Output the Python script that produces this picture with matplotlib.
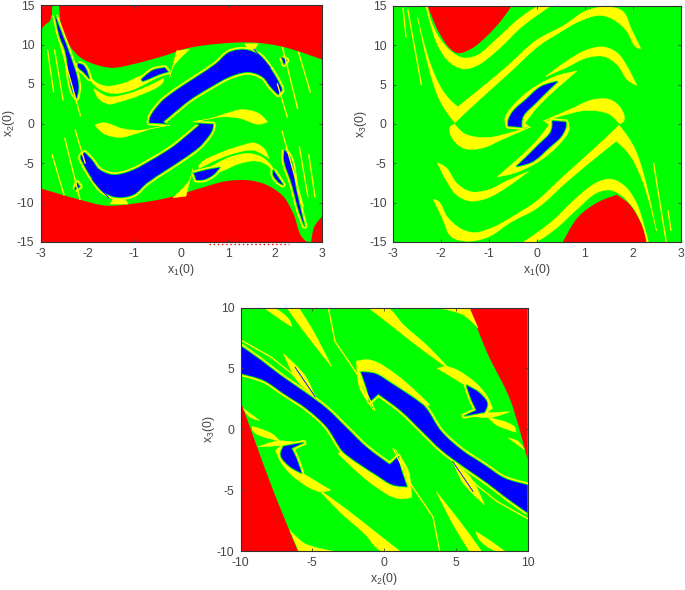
import matplotlib
matplotlib.use("Agg")
import matplotlib.pyplot as plt
from matplotlib.patches import PathPatch
from matplotlib.path import Path
import numpy as np

plt.rcParams['font.family'] = ['Liberation Sans', 'DejaVu Sans']
plt.rcParams['axes.unicode_minus'] = False

RED = '#ff0000'
GREEN = '#00ff00'
BLUE = '#0000ff'
YELLOW = '#ffff00'
TXT = '#444444'

# --- panel 1: x1(0) / x2(0)
p1_red = [
    [(-3, 15), (-3, 11.8), (-2.9, 12.5), (-2.8, 13), (-2.75, 15), (-2.6, 15), (-2.52, 11.4), (-2.16, 8.4),
     (-1.74, 7.3), (-1.45, 7.05), (-1.03, 7.5), (-0.32, 8.65), (0.11, 9.5), (0.82, 10.1), (1.53, 10.25),
     (2.17, 9.7), (3, 8.1), (3, 15)],
    [(-3, -15), (-3, -8.2), (-2.5, -9.1), (-2.16, -9.65), (-1.6, -10.4), (-1.03, -10.15), (-0.32, -9.45),
     (0.4, -8.2), (0.96, -7.3), (1.46, -7.2), (1.81, -7.75), (2.17, -9.2), (2.38, -11.3), (2.66, -14.9),
     (2.77, -15), (2.84, -13), (3, -11.8), (3, -15)],
]
p1_yellow = [
    [(-2.05, 7), (-1.84, 5.3), (-1.59, 4.74), (-1.24, 5.08), (-0.88, 6), (-0.35, 7.2), (-0.33, 6.56), (-0.74, 5.1),
     (-1.09, 4.15), (-1.45, 3.8), (-1.73, 4.3), (-1.94, 5.5)],
    [(-1.87, 4.45), (-1.55, 3.4), (-1.24, 3.6), (-0.81, 4.45), (-0.38, 5.7), (-0.38, 5.3), (-0.88, 3.6), (-1.31, 2.76),
     (-1.55, 2.46), (-1.77, 3.2)],
    [(2.05, -7), (1.84, -5.3), (1.59, -4.74), (1.24, -5.08), (0.88, -6), (0.35, -7.2), (0.33, -6.56), (0.74, -5.1),
     (1.09, -4.15), (1.45, -3.8), (1.73, -4.3), (1.94, -5.5)],
    [(1.87, -4.45), (1.55, -3.4), (1.24, -3.6), (0.81, -4.45), (0.38, -5.7), (0.38, -5.3), (0.88, -3.6), (1.31, -2.76),
     (1.55, -2.46), (1.77, -3.2)],
    [(0.24, 0.2), (0.6, 0.6), (0.95, 1.25), (1.3, 1.76), (1.66, 1.25), (1.84, 0.2), (1.66, -0.1), (1.25, 0.65),
     (0.89, 0.85), (0.53, 0.5)],
    [(-1.84, -0.2), (-1.66, 0.1), (-1.25, -0.65), (-0.89, -0.85), (-0.53, -0.5), (-0.24, -0.2), (-0.6, -0.6),
     (-0.95, -1.25), (-1.3, -1.76), (-1.66, -1.25)],
    [(1.35, 10.1), (1.64, 10.1), (1.53, 9.3), (1.43, 9.3)],
    [(-1.52, -10.2), (-1.13, -10.2), (-1.27, -9.25), (-1.42, -9.25)],
    [(-0.1, 9.2), (0.18, 9.4), (-0.17, 7.2), (-0.25, 5.7)],
    [(0.1, -9.2), (-0.18, -9.4), (0.17, -7.2), (0.25, -5.7)],
]
p1_streaks = [
    [(-2.85, 9.3), (-2.72, 4)],
    [(-2.7, 9.3), (-2.52, 3)],
    [(-2.6, 10.5), (-2.15, 1)],
    [(-2.26, -0.83), (-2.05, -5)],
    [(-2.48, -1.9), (-2.16, -9.6)],
    [(-2.75, -4), (-2.5, -9)],
    [(2.85, -9.3), (2.72, -4)],
    [(2.7, -9.3), (2.52, -3)],
    [(2.6, -10.5), (2.15, -1)],
    [(2.26, 0.83), (2.05, 5)],
    [(2.48, 1.9), (2.16, 9.6)],
    [(2.75, 4), (2.5, 9)],
]
p1_blue = [
    [(-0.32, -0.02), (-0.68, 0.1), (-0.66, 0.82), (-0.46, 2.5), (-0.39, 2.93), (-0.11, 4.19), (0.32, 5.87),
     (0.74, 7.55), (1.03, 9.03), (1.38, 9.32), (1.67, 8.6), (1.88, 7.13), (2.09, 5.03), (2.14, 4.19), (2.06, 3.68),
     (1.91, 4.6), (1.74, 5.87), (1.45, 6.5), (1.1, 6.08), (0.6, 4.53), (0.17, 2.93), (-0.18, 1.24), (-0.39, 0.19)],
    [(0.32, 0.02), (0.68, -0.1), (0.66, -0.82), (0.46, -2.5), (0.39, -2.93), (0.11, -4.19), (-0.32, -5.87),
     (-0.74, -7.55), (-1.03, -9.03), (-1.38, -9.32), (-1.67, -8.6), (-1.88, -7.13), (-2.09, -5.03),
     (-2.14, -4.19), (-2.06, -3.68), (-1.91, -4.6), (-1.74, -5.87), (-1.45, -6.5), (-1.1, -6.08),
     (-0.6, -4.53), (-0.17, -2.93), (0.18, -1.24), (0.39, -0.19)],
    [(-0.85, 5.57), (-0.6, 6.75), (-0.35, 7.05), (-0.28, 6.54), (-0.46, 6.24), (-0.67, 5.7), (-0.82, 5.36)],
    [(0.27, -6.3), (0.54, -5.87), (0.82, -5.58), (0.68, -6.5), (0.46, -7.13), (0.32, -7.13)],
    [(-2.2, 7.6), (-2.09, 7.38), (-1.96, 5.7), (-2.09, 6.54), (-2.2, 7.17)],
    [(1.96, -5.87), (2.17, -7.76), (2.1, -7.55), (1.96, -6.5)],
    [(-2.69, 13.7), (-2.52, 11), (-2.41, 9.3), (-2.19, 4.66), (-2.23, 3.2), (-2.3, 3.8), (-2.48, 9.3), (-2.59, 11)],
    [(2.2, -3.35), (2.31, -4.2), (2.45, -8.4), (2.63, -13), (2.52, -11.3), (2.35, -7.55), (2.19, -4.6)],
    [(2.14, 8.4), (2.25, 8), (2.19, 7.5)],
    [(-2.27, -8.4), (-2.16, -8), (-2.22, -7.5)],
]
p1_thin_blue = [
    [(1.55, 9.4), (1.9, 7.1)],
    [(-1.55, -9.4), (-1.9, -7.1)],
]

# --- panel 2: x1(0) / x3(0)
p2_red = [
    [(-2.28, 15), (-0.53, 15), (-0.74, 13.2), (-1.09, 10.9), (-1.36, 9.6), (-1.64, 9), (-1.78, 9.4), (-2.03, 11.5)],
    [(0.54, -15), (0.86, -11.8), (1.28, -9.9), (1.66, -9), (1.91, -10.1), (2.15, -12.4), (2.31, -15)],
]
p2_yellow = [
    [(-2.28, 15), (-2.23, 13.5), (-2.02, 10.8), (-1.74, 9), (-1.53, 8.4), (-1.26, 8.7), (-0.84, 10.8), (-0.35, 13.5),
     (0.06, 15), (0.28, 15), (-0.29, 12.5), (-0.84, 9.3), (-1.26, 7.4), (-1.53, 7), (-1.81, 7.8), (-2.06, 9.9),
     (-2.23, 12.9), (-2.32, 15)],
    [(2.28, -15), (2.23, -13.5), (2.02, -10.8), (1.74, -9), (1.53, -8.4), (1.26, -8.7), (0.84, -10.8), (0.35, -13.5),
     (-0.06, -15), (-0.28, -15), (0.29, -12.5), (0.84, -9.3), (1.26, -7.4), (1.53, -7), (1.81, -7.8), (2.06, -9.9),
     (2.23, -12.9), (2.32, -15)],
    [(-2.49, 13.6), (-2.22, 7.6), (-1.98, 4.4), (-1.8, 3), (-1.65, 2.2), (-1.4, 3.4), (-0.63, 7.3), (0, 10.7),
     (0.55, 12.5), (1.03, 14.4), (1.45, 14.9), (1.77, 14.4), (1.97, 12), (2.16, 9.6), (2.08, 9.7), (1.87, 11.8),
     (1.59, 13.3), (1.31, 13.8), (0.9, 13.1), (0.41, 11.4), (0.06, 10.05), (-0.56, 6.6), (-1.25, 2.8), (-1.54, 1.15),
     (-1.71, 0.15), (-1.88, 1.5), (-2.05, 3.3), (-2.27, 7.5)],
    [(2.49, -13.6), (2.22, -7.6), (1.98, -4.4), (1.8, -3), (1.65, -2.2), (1.4, -3.4), (0.63, -7.3), (0, -10.7),
     (-0.55, -12.5), (-1.03, -14.4), (-1.45, -14.9), (-1.77, -14.4), (-1.97, -12), (-2.16, -9.6), (-2.08, -9.7),
     (-1.87, -11.8), (-1.59, -13.3), (-1.31, -13.8), (-0.9, -13.1), (-0.41, -11.4), (-0.06, -10.05), (0.56, -6.6),
     (1.25, -2.8), (1.54, -1.15), (1.71, -0.15), (1.88, -1.5), (2.05, -3.3), (2.27, -7.5)],
    [(2.08, 4.9), (1.87, 7.4), (1.66, 9.1), (1.38, 9.8), (1.03, 9.4), (0.62, 8), (0.17, 6), (0.62, 7.2), (1.03, 8.4),
     (1.38, 8.6), (1.66, 7.6), (1.9, 5.5)],
    [(-2.08, -4.9), (-1.87, -7.4), (-1.66, -9.1), (-1.38, -9.8), (-1.03, -9.4), (-0.62, -8), (-0.17, -6), (-0.62, -7.2),
     (-1.03, -8.4), (-1.38, -8.6), (-1.66, -7.6), (-1.9, -5.5)],
    [(0.13, 0.38), (0.69, 1.87), (1.17, 3.1), (1.52, 3.1), (1.76, 1.87), (1.81, 0.38), (1.72, 0), (1.49, 1.3), (1, 1.7),
     (0.58, 1.15)],
    [(-0.13, -0.38), (-0.69, -1.87), (-1.17, -3.1), (-1.52, -3.1), (-1.76, -1.87), (-1.81, -0.38), (-1.72, 0),
     (-1.49, -1.3), (-1, -1.7), (-0.58, -1.15)],
    [(0.83, 6.74), (0.45, 6.2), (-0.04, 4.75), (-0.46, 2.6), (-0.67, 0.7), (-0.63, -0.5), (-0.15, -0.4), (-0.25, 0.1),
     (-0.04, 1.8), (0.3, 3.9), (0.58, 5.4)],
    [(-0.83, -6.74), (-0.45, -6.2), (0.04, -4.75), (0.46, -2.6), (0.67, -0.7), (0.63, 0.5), (0.15, 0.4), (0.25, -0.1),
     (0.04, -1.8), (-0.3, -3.9), (-0.58, -5.4)],
]
p2_streaks = [
    [(-2.79, 14.7), (-2.73, 11.1)],
    [(-2.69, 14.5), (-2.41, 5)],
    [(2.43, -5), (2.69, -14.9)],
    [(2.73, -11), (2.79, -13.5)],
]
p2_blue = [
    [(0.43, 5.4), (0.1, 4.8), (-0.25, 3), (-0.5, 1.6), (-0.6, 0.4), (-0.6, -0.25), (-0.32, -0.4), (-0.32, 0.3),
     (-0.28, 1.1), (-0.04, 2.6), (0.24, 4.3)],
    [(-0.43, -5.4), (-0.1, -4.8), (0.25, -3), (0.5, -1.6), (0.6, -0.4), (0.6, 0.25), (0.32, 0.4), (0.32, -0.3),
     (0.28, -1.1), (0.04, -2.6), (-0.24, -4.3)],
]
p2_thin_blue = []

# --- panel 3: x2(0) / x3(0)
p3_red = [
    [(5.94, 10), (10, 10), (10, -2.5), (8.77, 2.5), (7.26, 6.1), (6.68, 7.75)],
    [(-10, 2.33), (-8.77, -1.7), (-7.6, -5.4), (-6, -10), (-10, -10)],
]
p3_yellow = [
    [(-6.78, 10), (-5.96, 10), (-5.04, 8.3), (-3.64, 5.13), (-5.04, 7.2), (-6.08, 8.83)],
    [(6.78, -10), (5.96, -10), (5.04, -8.3), (3.64, -5.13), (5.04, -7.2), (6.08, -8.83)],
    [(-8.4, 10), (-7.8, 10), (-6.6, 9), (-6.4, 8.4), (-7.2, 9)],
    [(8.4, -10), (7.8, -10), (6.6, -9), (6.4, -8.4), (7.2, -9)],
    [(-1.1, 10), (0.17, 10), (1.34, 8.6), (3.2, 6.65), (4.6, 4.9), (2.7, 6.5), (0.9, 8.16)],
    [(1.1, -10), (-0.17, -10), (-1.34, -8.6), (-3.2, -6.65), (-4.6, -4.9), (-2.7, -6.5), (-0.9, -8.16)],
    [(3.6, 10), (5.94, 10), (6.56, 8.3), (5.5, 9.4)],
    [(-3.6, -10), (-5.94, -10), (-6.56, -8.3), (-5.5, -9.4)],
    [(3.7, 5), (4.36, 5.15), (5.98, 4.2), (7.14, 2.8), (7.56, 1.73), (6.9, 1.18), (5.75, 1.23), (6.56, 1.86),
     (6.2, 3.1), (5.05, 4.05)],
    [(-3.7, -5), (-4.36, -5.15), (-5.98, -4.2), (-7.14, -2.8), (-7.56, -1.73), (-6.9, -1.18), (-5.75, -1.23),
     (-6.56, -1.86), (-6.2, -3.1), (-5.05, -4.05)],
    [(5.4, 1.23), (8.77, 1.45), (7.4, 0.96)],
    [(-5.4, -1.23), (-8.77, -1.45), (-7.4, -0.96)],
    [(7.26, 0.96), (9.1, 0.2), (9.2, -0.25), (7.83, 0.35)],
    [(-7.26, -0.96), (-9.1, -0.2), (-9.2, 0.25), (-7.83, -0.35)],
    [(8.65, -0.7), (9.35, -1), (9.8, -1.7)],
    [(-8.65, 0.7), (-9.35, 1), (-9.8, 1.7)],
    [(-10, 5.55), (-9.1, 4.6), (-10, 4.85)],
    [(10, -5.55), (9.1, -4.6), (10, -4.85)],
    [(-7, 6.2), (-5.5, 4.4), (-4.8, 2.67), (-6, 3.9)],
    [(7, -6.2), (5.5, -4.4), (4.8, -2.67), (6, -3.9)],
    [(-1.92, 5.6), (-1, 5.7), (0.87, 4.47), (3.2, 2), (2.73, 1.73), (0.64, 3.9), (-1, 4.88), (-1.7, 4.7),
     (-1.57, 3.65), (-0.75, 1.6), (-1.7, 3.4)],
    [(1.92, -5.6), (1, -5.7), (-0.87, -4.47), (-3.2, -2), (-2.73, -1.73), (-0.64, -3.9), (1, -4.88), (1.7, -4.7),
     (1.57, -3.65), (0.75, -1.6), (1.7, -3.4)],
]
p3_streaks = [
    [(-3.87, 9.93), (-3.41, 7.2), (-1.9, 4.58), (-0.64, 1.6)],
    [(3.87, -9.93), (3.41, -7.2), (1.9, -4.58), (0.64, -1.6)],
    [(-10, 7.34), (-7.9, 5.95), (-6.56, 4.7), (-4.82, 2.8)],
    [(10, -7.34), (7.9, -5.95), (6.56, -4.7), (4.82, -2.8)],
]
p3_blue = [
    [(-10, 6.85), (-8.6, 5.68), (-7.24, 4.45), (-5.4, 2.94), (-4, 1.7), (-2.6, 0.1), (-1.2, -1.5), (0.4, -2.9),
     (1, -2.25), (1.1, -2.9), (1.6, -4.7), (0.64, -4.57), (-0.52, -3.76), (-2.6, -2.1), (-2.85, -1.84), (-4, 0.2),
     (-5.4, 1.7), (-7, 2.94), (-8.4, 4.03), (-10, 4.58)],
    [(10, -6.85), (8.6, -5.68), (7.24, -4.45), (5.4, -2.94), (4, -1.7), (2.6, -0.1), (1.2, 1.5), (-0.4, 2.9),
     (-1, 2.25), (-1.1, 2.9), (-1.6, 4.7), (-0.64, 4.57), (0.52, 3.76), (2.6, 2.1), (2.85, 1.84), (4, -0.2),
     (5.4, -1.7), (7, -2.94), (8.4, -4.03), (10, -4.58)],
    [(-7.2, -2.1), (-7, -1.4), (-5.6, -1.1), (-6.45, -1.56), (-6.1, -2.4), (-5.75, -3.6), (-6.56, -3.06)],
    [(7.2, 2.1), (7, 1.4), (5.6, 1.1), (6.45, 1.56), (6.1, 2.4), (5.75, 3.6), (6.56, 3.06)],
]
p3_thin_blue = [
    [(-6.2, 5.1), (-4.8, 2.67)],
    [(6.2, -5.1), (4.8, -2.67)],
]

p1_xticks = [-3, -2, -1, 0, 1, 2, 3]
p1_yticks = [-15, -10, -5, 0, 5, 10, 15]
p3_ticks = [-10, -5, 0, 5, 10]
dots_x = [0.6, 2.3]


def outline(poly, xlim, ylim):
    # closed bezier through the read points, sharp turns stay corners
    pts = np.array(poly, dtype=float)
    scale = np.array([xlim[1] - xlim[0], ylim[1] - ylim[0]])
    p = pts / scale
    n = len(p)
    verts = [tuple(pts[0])]
    codes = [Path.MOVETO]
    tang = []
    for i in range(n):
        a = p[i] - p[i - 1]
        b = p[(i + 1) % n] - p[i]
        a = a / np.linalg.norm(a)
        b = b / np.linalg.norm(b)
        if np.dot(a, b) < 0.5:
            tang.append(np.zeros(2))
        else:
            t = a + b
            tang.append(t / np.linalg.norm(t))
    for i in range(n):
        j = (i + 1) % n
        d = np.linalg.norm(p[j] - p[i]) / 3
        verts.append(tuple((p[i] + tang[i] * d) * scale))
        verts.append(tuple((p[j] - tang[j] * d) * scale))
        verts.append(tuple(pts[j]))
        codes += [Path.CURVE4, Path.CURVE4, Path.CURVE4]
    return Path(verts, codes)


def draw_panel(rect, xlim, ylim, xticks, yticks, xlabel, ylabel, red, yellow, streaks, blue, thin_blue):
    ax = fig.add_axes(rect, facecolor=GREEN)
    for poly in red:
        ax.add_patch(PathPatch(outline(poly, xlim, ylim), fc=RED, ec='none'))
    for poly in yellow:
        ax.add_patch(PathPatch(outline(poly, xlim, ylim), fc=YELLOW, ec=YELLOW, lw=0.3))
    for line in streaks:
        ax.plot(*zip(*line), color=YELLOW, lw=1.0)
    for poly in blue:
        # halo: thin yellow rim and green gap round the blue basin
        path = outline(poly, xlim, ylim)
        ax.add_patch(PathPatch(path, fc=YELLOW, ec=YELLOW, lw=3.8, joinstyle='round'))
        ax.add_patch(PathPatch(path, fc=GREEN, ec=GREEN, lw=1.4, joinstyle='round'))
        ax.add_patch(PathPatch(path, fc=BLUE, ec='none'))
    for line in thin_blue:
        ax.plot(*zip(*line), color=BLUE, lw=0.6)
    ax.set_xlim(xlim)
    ax.set_ylim(ylim)
    ax.set_xticks(xticks)
    ax.set_yticks(yticks)
    ax.tick_params(direction='in', length=2.5, width=0.6, top=True, right=True, labelsize=8.8, colors=TXT, pad=4.5)
    ax.set_xlabel(xlabel, fontsize=8.8, color=TXT, labelpad=1.5)
    ax.set_ylabel(ylabel, fontsize=8.8, color=TXT, labelpad=0)
    for s in ax.spines.values():
        s.set_linewidth(0.8)
        s.set_color('#333333')
    return ax


W, H = 685, 590
fig = plt.figure(figsize=(W / 100, H / 100), dpi=100)


def rect_px(left, right, top, bottom):
    return [left / W, 1 - bottom / H, (right - left) / W, (bottom - top) / H]


ax1 = draw_panel(rect_px(40.5, 322, 5, 242), (-3, 3), (-15, 15), p1_xticks, p1_yticks,
                 r'x$_{\mathregular{1}}$(0)', r'x$_{\mathregular{2}}$(0)', p1_red, p1_yellow, p1_streaks, p1_blue,
                 p1_thin_blue)
ax1.plot(dots_x, [-15.2, -15.2], color=RED, lw=1, ls=(0, (1, 2)), clip_on=False)

draw_panel(rect_px(393, 681, 6, 242), (-3, 3), (-15, 15), p1_xticks, p1_yticks,
           r'x$_{\mathregular{1}}$(0)', r'x$_{\mathregular{3}}$(0)', p2_red, p2_yellow, p2_streaks, p2_blue,
           p2_thin_blue)

draw_panel(rect_px(240.5, 527.5, 307.5, 551), (-10, 10), (-10, 10), p3_ticks, p3_ticks,
           r'x$_{\mathregular{2}}$(0)', r'x$_{\mathregular{3}}$(0)', p3_red, p3_yellow, p3_streaks, p3_blue,
           p3_thin_blue)

fig.savefig('out.png', dpi=100)
